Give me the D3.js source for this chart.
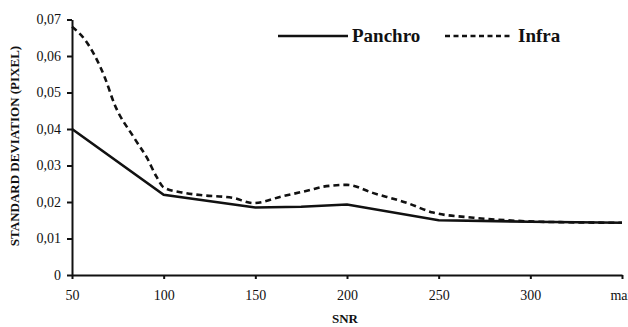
<!DOCTYPE html>
<html>
<head>
<script src="https://d3js.org/d3.v7.min.js"></script>
<style>
  body { margin: 0; padding: 0; background: #fff; }
  .axis path, .axis line { stroke: #111; stroke-width: 2; }
</style>
</head>
<body>
<script>
// SNR positions (350 stands for "max")
var xTicks = [50, 100, 150, 200, 250, 300, 350];
var xTickLabels = ["50", "100", "150", "200", "250", "300", "max"];
var yTicks = [0, 0.01, 0.02, 0.03, 0.04, 0.05, 0.06, 0.07];

var panchroSnr = [50, 100, 150, 175, 200, 250, 300, 350];
var panchroStd = [0.040, 0.0220, 0.0185, 0.0187, 0.0193, 0.0150, 0.0146, 0.0143];

var infraSnr = [50, 57, 62.5, 68, 73, 84, 91, 96, 100, 110, 120, 138, 149, 165, 180, 187, 200, 214, 233, 247, 269, 287, 305, 350];
var infraStd = [0.068, 0.0645, 0.060, 0.054, 0.047, 0.0375, 0.032, 0.027, 0.0240, 0.0226, 0.0219, 0.0211, 0.0197, 0.0216, 0.0233, 0.0242, 0.0247, 0.0225, 0.0197, 0.0171, 0.0157, 0.0150, 0.0146, 0.0143];

var fontName = "Liberation Serif";
var width = 628, height = 327;
var svg = d3.select("body").append("svg")
    .attr("width", width)
    .attr("height", height);

var x = d3.scaleLinear().domain([50, 350]).range([72, 622]);
var y = d3.scaleLinear().domain([0, 0.07]).range([275, 19.5]);

// axes
svg.append("g")
    .attr("class", "axis")
    .attr("transform", "translate(0," + y(0) + ")")
    .call(d3.axisBottom(x).tickValues(xTicks).tickSize(4).tickSizeOuter(0)
        .tickFormat(function(d, i) { return xTickLabels[i]; }))
    .call(function(g) {
        g.attr("font-family", fontName);
        g.selectAll("text").attr("dy", "1.25em")
            .attr("font-family", fontName).attr("font-size", "14px").attr("fill", "#111");
    });

svg.append("g")
    .attr("class", "axis")
    .attr("transform", "translate(" + x(50) + ",0)")
    .call(d3.axisLeft(y).tickValues(yTicks).tickSize(5).tickSizeOuter(0)
        .tickFormat(function(d) { return d === 0 ? "0" : d3.format(".2f")(d).replace(".", ","); }))
    .call(function(g) {
        g.attr("font-family", fontName);
        g.selectAll("text").attr("x", -11)
            .attr("font-family", fontName).attr("font-size", "14px").attr("fill", "#111");
    });

// lines
var line = d3.line()
    .x(function(d) { return x(d[0]); })
    .y(function(d) { return y(d[1]); })
    .curve(d3.curveMonotoneX);

svg.append("path")
    .datum(d3.zip(infraSnr, infraStd))
    .attr("d", line)
    .attr("fill", "none")
    .attr("stroke", "#111")
    .attr("stroke-width", 2.6)
    .attr("stroke-dasharray", "6,4");

svg.append("path")
    .datum(d3.zip(panchroSnr, panchroStd))
    .attr("d", line.curve(d3.curveLinear))
    .attr("fill", "none")
    .attr("stroke", "#111")
    .attr("stroke-width", 2.6);

// axis titles
svg.append("text")
    .attr("x", 345)
    .attr("y", 323)
    .attr("text-anchor", "middle")
    .attr("font-family", fontName)
    .attr("font-size", "13px")
    .attr("font-weight", "bold")
    .attr("fill", "#111")
    .text("SNR");

svg.append("text")
    .attr("transform", "translate(19,146)rotate(-90)")
    .attr("text-anchor", "middle")
    .attr("font-family", fontName)
    .attr("font-size", "13px")
    .attr("font-weight", "bold")
    .attr("fill", "#111")
    .text("STANDARD DEVIATION (PIXEL)");

// legend
var legend = svg.append("g")
    .attr("font-family", fontName)
    .attr("font-size", "19px")
    .attr("font-weight", "bold")
    .attr("fill", "#111");
legend.append("line")
    .attr("x1", 278).attr("x2", 348).attr("y1", 36).attr("y2", 36)
    .attr("stroke", "#111").attr("stroke-width", 2.4);
legend.append("text")
    .attr("x", 352).attr("y", 42)
    .text("Panchro");
legend.append("line")
    .attr("x1", 445).attr("x2", 510).attr("y1", 36).attr("y2", 36)
    .attr("stroke", "#111").attr("stroke-width", 2.4)
    .attr("stroke-dasharray", "5,3.5");
legend.append("text")
    .attr("x", 518).attr("y", 42)
    .text("Infra");
</script>
</body>
</html>
